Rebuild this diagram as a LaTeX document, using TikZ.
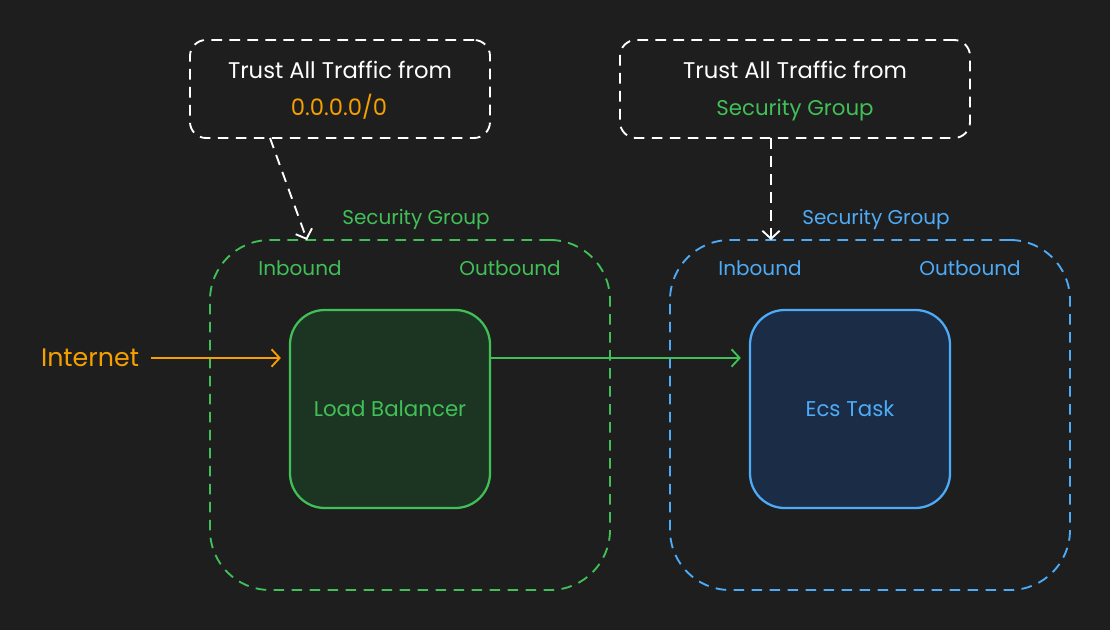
\documentclass[tikz,border=0pt]{standalone}
\usepackage{fontspec}
\setmainfont{Poppins}
\usetikzlibrary{arrows.meta}
\definecolor{bg}{HTML}{1E1E1E}
\definecolor{sggreen}{HTML}{40C057}
\definecolor{sgblue}{HTML}{4DABF7}
\definecolor{netorange}{HTML}{F59F00}
\definecolor{lbfill}{HTML}{1C3422}
\definecolor{ecsfill}{HTML}{1A2C46}
\tikzset{
  dash line/.style={dash pattern=on 8pt off 5.5pt, line width=1.4pt},
  barb/.style={-{Straight Barb[length=6pt,width=13pt,line width=1.4pt]}},
  txt/.style={inner sep=0pt, font=\fontsize{#1}{#1}\selectfont}
}
\begin{document}
\begin{tikzpicture}[x=0.75pt,y=-0.75pt]
    \fill[bg] (0,0) rectangle (1110,630);
    \useasboundingbox (0,0) rectangle (1110,630);
    % trust boxes
    \begin{scope}[every node/.style={draw=white, dash line, rounded corners=12pt, minimum height=73.5pt, inner sep=0pt}]
        \node (trustl) at (340,89) [minimum width=225pt] {};
        \node (trustr) at (795,89) [minimum width=262.5pt] {};
    \end{scope}
    % security groups
    \begin{scope}[every node/.style={dash line, rounded corners=45pt, minimum width=300pt, minimum height=262.5pt, inner sep=0pt}]
        \node[draw=sggreen] (sgl) at (410,415) {};
        \node[draw=sgblue] (sgr) at (870,415) {};
    \end{scope}
    % services
    \begin{scope}[every node/.style={line width=1.7pt, rounded corners=26pt, minimum width=150pt, minimum height=148.5pt, inner sep=0pt, font=\fontsize{16}{16}\selectfont}]
        \node[draw=sggreen, fill=lbfill, text=sggreen] (lb) at (390,409) {Load Balancer};
        \node[draw=sgblue, fill=ecsfill, text=sgblue] (ecs) at (850,409) {Ecs Task};
    \end{scope}
    % labels
    \node[txt=17, white] (trustltxt) at (340,70) {Trust All Traffic from};
    \node[txt=17, netorange] (anyip) at (339,107) {0.0.0.0/0};
    \node[txt=17, white] (trustrtxt) at (795,70) {Trust All Traffic from};
    \node[txt=16, sggreen] (sgref) at (795,110) {Security Group};
    \node[txt=15, sggreen] (sgltitle) at (416,219) {Security Group};
    \node[txt=15, sgblue] (sgrtitle) at (876,219) {Security Group};
    \node[txt=15, sggreen] (sglin) at (300,268) {Inbound};
    \node[txt=15, sggreen] (sglout) at (510,268) {Outbound};
    \node[txt=15, sgblue] (sgrin) at (760,268) {Inbound};
    \node[txt=15, sgblue] (sgrout) at (970,268) {Outbound};
    \node[txt=19, netorange] (internet) at (90,358) {Internet};
    % connectors
    \coordinate (trustlfoot) at (270,138);
    \coordinate (sgltop) at (307,240);
    \coordinate (trustrfoot) at (771,138);
    \coordinate (sgrtop) at (771,240);
    \draw[white, dash line, barb] (trustlfoot) -- (sgltop);
    \draw[white, dash line, barb] (trustrfoot) -- (sgrtop);
    \draw[netorange, line width=1.7pt, barb, shorten <=9pt, shorten >=6pt] (internet.east) -- (internet.east -| lb.west);
    \draw[sggreen, line width=1.7pt, barb, shorten >=6pt] (lb.east |- internet.east) -- (ecs.west |- internet.east);
\end{tikzpicture}
\end{document}
